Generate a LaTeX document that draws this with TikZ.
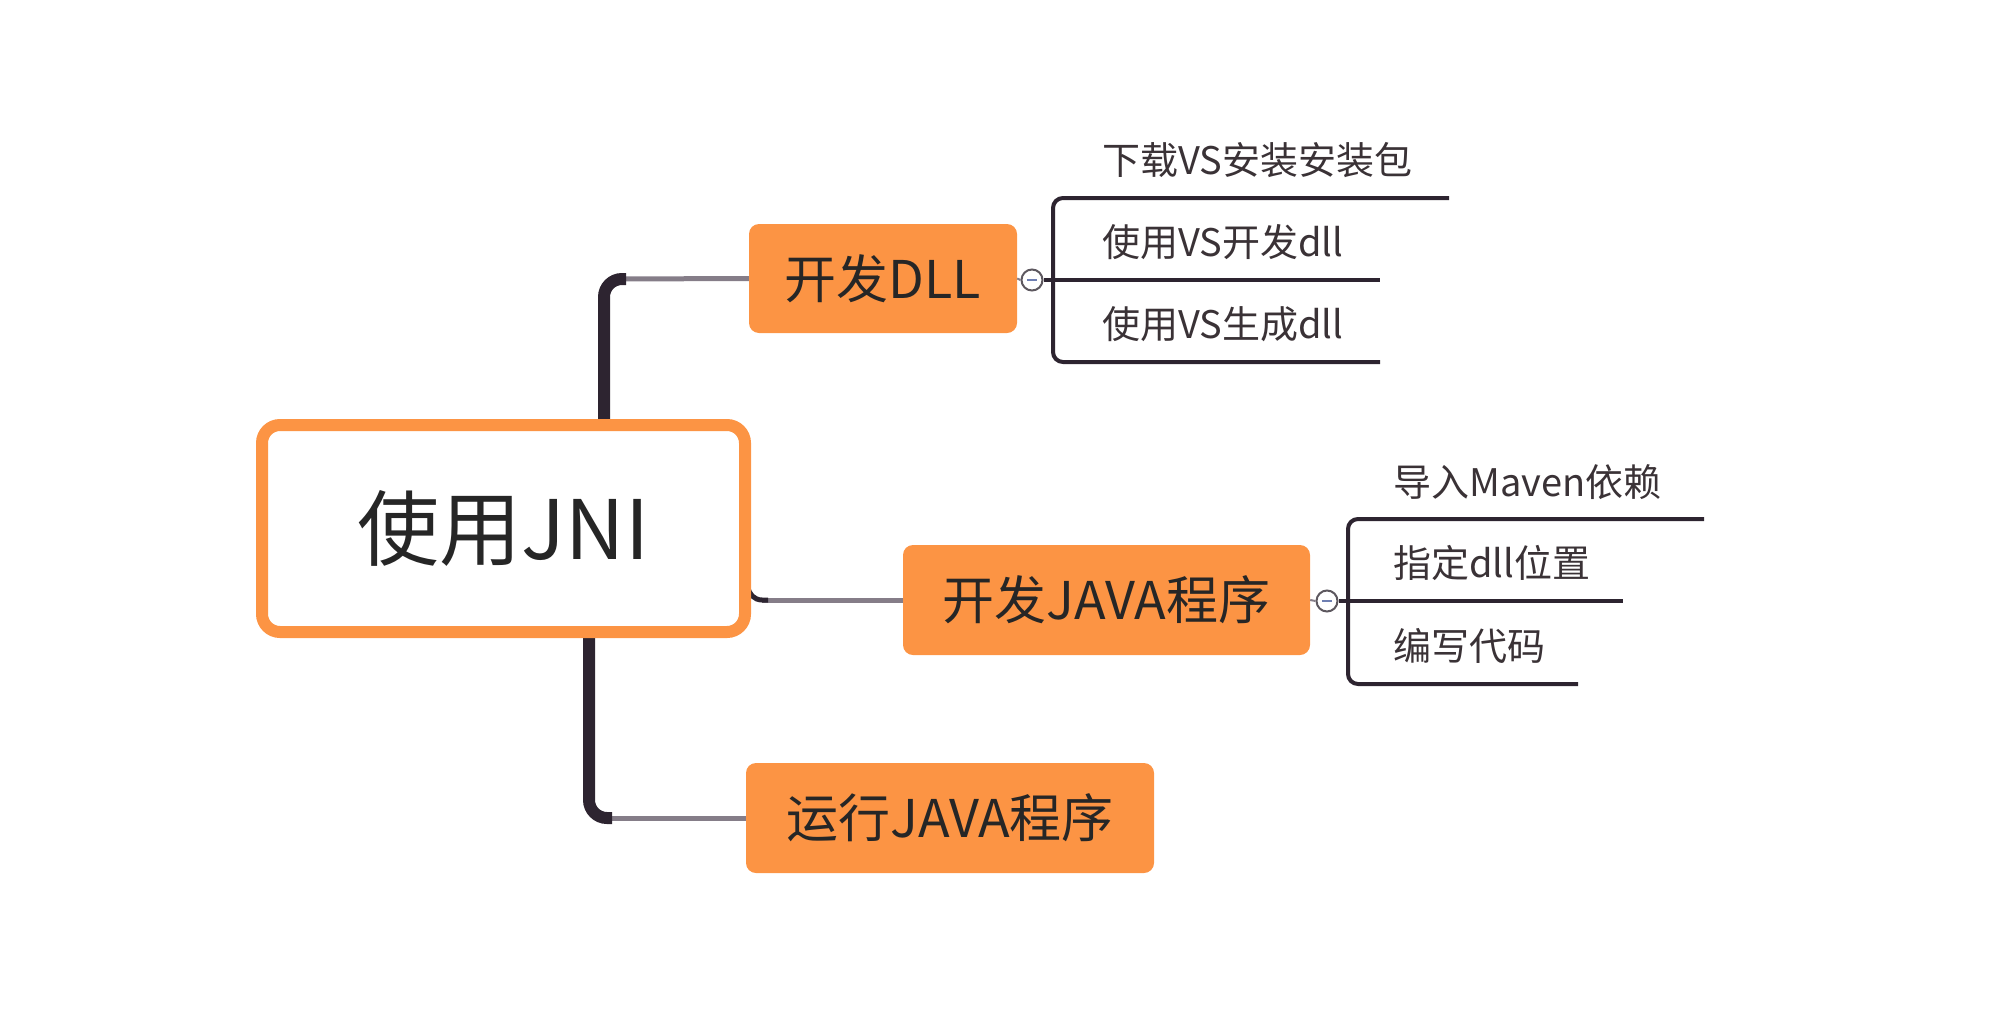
\documentclass[tikz,border=0pt]{standalone}
\usepackage{fontspec}
\usetikzlibrary{calc}
\setmainfont{Noto Sans CJK SC}
\definecolor{orng}{HTML}{FC9444}
\definecolor{dk}{HTML}{2D2430}
\definecolor{gr}{HTML}{857D88}
\definecolor{txt}{HTML}{262626}
\definecolor{subtxt}{HTML}{3A3236}
\definecolor{minus}{HTML}{6E7FB2}
\begin{document}
\begin{tikzpicture}[x=1pt,y=-1pt,
  rootbox/.style={draw=orng,line width=12pt,fill=white,rounded corners=18pt,
    minimum width=483pt,minimum height=207pt,inner sep=0pt,text=txt,
    font=\fontsize{82}{98}\selectfont},
  topic/.style={fill=orng,rounded corners=10pt,inner sep=0pt,text=txt,
    font=\fontsize{52}{62}\selectfont},
  sub/.style={anchor=west,inner sep=0pt,text=subtxt,font=\fontsize{38}{45}\selectfont},
  trunk/.style={draw=dk,line width=12pt,rounded corners=18pt},
  twig/.style={draw=gr,line width=5pt},
  br/.style={draw=dk,line width=4pt,rounded corners=10pt},
  toggle/.style={circle,draw=gr!70!black,line width=2pt,fill=white,minimum size=21pt,inner sep=0pt}
]
\useasboundingbox (0,0) rectangle (2000,1015);

% corner coordinates
\coordinate (k1) at (604,520);
\coordinate (e1) at (626,279);
\coordinate (k2) at (748,560);
\coordinate (e2) at (768,600);
\coordinate (k3) at (589,560);
\coordinate (e3) at (612,818);

% topic nodes
\node[topic,minimum width=268pt,minimum height=109pt] (dll) at (883,278.5) {开发DLL};
\node[topic,minimum width=407pt,minimum height=110pt] (java) at (1106.5,600) {开发JAVA程序};
\node[topic,minimum width=408pt,minimum height=110pt] (run) at (950,818) {运行JAVA程序};

% trunk connectors (drawn under the root)
\draw[twig] ($(e1)+(-10,0)$) -- (dll.west);
\draw[trunk] (k1) |- (e1);
\draw[twig] ($(e2)+(-6,0)$) -- (java.west);
\draw[trunk,line width=5pt,rounded corners=14pt] (k2) |- (e2);
\draw[twig] ($(e3)+(-10,0)$) -- (run.west);
\draw[trunk] (k3) |- (e3);

% root
\node[rootbox] (root) at (503.5,528.5) {使用JNI};

% DLL subtopics
\node[toggle] (t1) at (1032,280) {};
\draw[gr,line width=2pt] (dll.east) -- (t1.west);
\draw[minus,line width=2.5pt] ($(t1)+(-5,0)$) -- ($(t1)+(5,0)$);
\coordinate (a1) at (1449,198);
\coordinate (a2) at (1380,280);
\coordinate (a3) at (1380,362);
\coordinate (av) at (1053,280);
\draw[br] (a1) -| (av) |- (a3);
\draw[br] (t1.east) -- (a2);
\node[sub] (s1) at (1102,160) {下载VS安装安装包};
\node[sub] (s2) at (1102,242) {使用VS开发dll};
\node[sub] (s3) at (1102,324) {使用VS生成dll};

% JAVA subtopics
\node[toggle] (t2) at (1327,601) {};
\draw[gr,line width=2pt] (java.east) -- (t2.west);
\draw[minus,line width=2.5pt] ($(t2)+(-5,0)$) -- ($(t2)+(5,0)$);
\coordinate (b1) at (1704,519);
\coordinate (b2) at (1623,601);
\coordinate (b3) at (1578,684);
\coordinate (bv) at (1348,601);
\draw[br] (b1) -| (bv) |- (b3);
\draw[br] (t2.east) -- (b2);
\node[sub] (u1) at (1393,482) {导入Maven依赖};
\node[sub] (u2) at (1393,563) {指定dll位置};
\node[sub] (u3) at (1393,646) {编写代码};
\end{tikzpicture}
\end{document}
